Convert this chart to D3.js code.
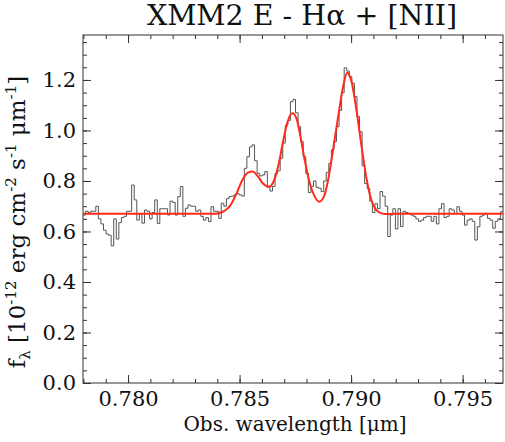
<!DOCTYPE html>
<html>
<head>
<meta charset="utf-8">
<script src="https://cdn.jsdelivr.net/npm/d3@7"></script>
<style>
  body { margin: 0; background: #fff; }
  svg { display: block; }
  text { font-family: "DejaVu Serif", serif; fill: #111; }
</style>
</head>
<body>
<div class="spec-chart"></div>
<script>
// spectrum: flux per bin, bins start at lambdaStart and are binWidth wide (micron)
const lambdaStart = 0.77798;
const binWidth = 0.0001148;
const flux = [
  0.665, 0.68, 0.675, 0.68, 0.68, 0.70, 0.65, 0.63, 0.605, 0.59,
  0.585, 0.543, 0.65, 0.57, 0.635, 0.655, 0.66, 0.68, 0.68, 0.784,
  0.725, 0.645, 0.67, 0.633, 0.685, 0.68, 0.65, 0.675, 0.725, 0.632,
  0.69, 0.69, 0.69, 0.665, 0.72, 0.715, 0.665, 0.738, 0.778, 0.66,
  0.692, 0.705, 0.70, 0.70, 0.68, 0.685, 0.66, 0.645, 0.655, 0.639,
  0.698, 0.68, 0.68, 0.652, 0.712, 0.70, 0.73, 0.738, 0.74, 0.745,
  0.75, 0.745, 0.74, 0.85, 0.896, 0.935, 0.943, 0.88, 0.83, 0.82,
  0.824, 0.837, 0.775, 0.76, 0.778, 0.83, 0.84, 0.89, 0.95, 1.02,
  1.04, 1.114, 1.123, 1.07, 1.015, 0.956, 0.896, 0.83, 0.754, 0.778,
  0.80, 0.775, 0.771, 0.758, 0.80, 0.834, 0.87, 0.923, 0.956, 1.015,
  1.08, 1.15, 1.248, 1.235, 1.213, 1.187, 1.134, 1.055, 0.995, 0.86,
  0.79, 0.77, 0.72, 0.675, 0.71, 0.69, 0.758, 0.74, 0.70, 0.58,
  0.665, 0.69, 0.61, 0.69, 0.62, 0.68, 0.675, 0.67, 0.665, 0.66,
  0.65, 0.64, 0.645, 0.655, 0.66, 0.66, 0.64, 0.66, 0.63, 0.69,
  0.71, 0.655, 0.66, 0.69, 0.685, 0.67, 0.698, 0.68, 0.665, 0.625,
  0.645, 0.65, 0.64, 0.566, 0.619, 0.66, 0.665, 0.672, 0.652, 0.645,
  0.613, 0.64, 0.65, 0.678
];

// gaussian fit (red)
const fitWave = [0.77798, 0.7830, 0.78389, 0.78420, 0.78438, 0.78456, 0.78486, 0.78516,
  0.78538, 0.78558, 0.78583, 0.78605, 0.78632, 0.78650, 0.78673, 0.78695, 0.78713,
  0.78737, 0.78755, 0.78773, 0.78792, 0.78815, 0.78837, 0.78857, 0.78878, 0.78897,
  0.78919, 0.78942, 0.78964, 0.78982, 0.79002, 0.79024, 0.79047, 0.79069, 0.79084,
  0.79099, 0.79121, 0.79151, 0.79196, 0.79681];
const fitFlux = [0.67, 0.67, 0.670, 0.676, 0.685, 0.70, 0.75, 0.81,
  0.833, 0.837, 0.817, 0.79, 0.777, 0.793, 0.857, 0.956, 1.028,
  1.068, 1.048, 0.975, 0.883, 0.79, 0.738, 0.718, 0.738, 0.804,
  0.923, 1.055, 1.173, 1.229, 1.193, 1.081, 0.936, 0.81, 0.745,
  0.705, 0.678, 0.669, 0.67, 0.67];

const xTicks = [0.780, 0.785, 0.790, 0.795];
const yTicks = [0.0, 0.2, 0.4, 0.6, 0.8, 1.0, 1.2];
const xDomain = [0.77798, 0.79681];
const yDomain = [0, 1.378];

const width = 505, height = 442;
const margin = { top: 35, right: 2, bottom: 59, left: 83 };

const svg = d3.select('.spec-chart').append('svg')
  .attr('width', width).attr('height', height);

const x = d3.scaleLinear().domain(xDomain).range([margin.left, width - margin.right]);
const y = d3.scaleLinear().domain(yDomain).range([height - margin.bottom, margin.top]);

const plotW = width - margin.left - margin.right,
  plotH = height - margin.top - margin.bottom;

const xMinor = d3.range(0.778, 0.7968, 0.001);
const yMinor = d3.range(0, 1.376, 0.05);

function styleAxis(g) {
  g.select('.domain').remove();
  g.selectAll('line').attr('stroke', '#333');
  g.selectAll('text').attr('font-size', 21).attr('fill', '#111');
}

// bottom
svg.append('g').attr('transform', 'translate(0,' + y(0) + ')')
  .call(d3.axisBottom(x).tickValues(xTicks).tickFormat(d3.format('.3f')).tickSize(-8).tickPadding(8))
  .call(styleAxis);
svg.append('g').attr('transform', 'translate(0,' + y(0) + ')')
  .call(d3.axisBottom(x).tickValues(xMinor).tickFormat('').tickSize(-4))
  .call(styleAxis);
// top
svg.append('g').attr('transform', 'translate(0,' + margin.top + ')')
  .call(d3.axisTop(x).tickValues(xTicks).tickFormat('').tickSize(-8))
  .call(styleAxis);
svg.append('g').attr('transform', 'translate(0,' + margin.top + ')')
  .call(d3.axisTop(x).tickValues(xMinor).tickFormat('').tickSize(-4))
  .call(styleAxis);
// left
svg.append('g').attr('transform', 'translate(' + margin.left + ',0)')
  .call(d3.axisLeft(y).tickValues(yTicks).tickFormat(d3.format('.1f')).tickSize(-8).tickPadding(7))
  .call(styleAxis);
svg.append('g').attr('transform', 'translate(' + margin.left + ',0)')
  .call(d3.axisLeft(y).tickValues(yMinor).tickFormat('').tickSize(-4))
  .call(styleAxis);
// right
svg.append('g').attr('transform', 'translate(' + (width - margin.right) + ',0)')
  .call(d3.axisRight(y).tickValues(yTicks).tickFormat('').tickSize(-8))
  .call(styleAxis);
svg.append('g').attr('transform', 'translate(' + (width - margin.right) + ',0)')
  .call(d3.axisRight(y).tickValues(yMinor).tickFormat('').tickSize(-4))
  .call(styleAxis);

svg.append('rect')
  .attr('x', margin.left).attr('y', margin.top)
  .attr('width', plotW).attr('height', plotH)
  .attr('fill', 'none').attr('stroke', '#333').attr('stroke-width', 1);

// spectrum histogram
const steps = flux.map((f, i) => [lambdaStart + i * binWidth, f]);
steps.push([lambdaStart + flux.length * binWidth, flux[flux.length - 1]]);

svg.append('clipPath').attr('id', 'plot-clip')
  .append('rect').attr('x', margin.left).attr('y', margin.top)
  .attr('width', plotW).attr('height', plotH);

svg.append('path')
  .datum(steps)
  .attr('clip-path', 'url(#plot-clip)')
  .attr('fill', 'none')
  .attr('stroke', '#555')
  .attr('stroke-width', 1)
  .attr('d', d3.line().x(d => x(d[0])).y(d => y(d[1])).curve(d3.curveStepAfter));

// fit
svg.append('path')
  .datum(fitWave.map((w, i) => [w, fitFlux[i]]))
  .attr('clip-path', 'url(#plot-clip)')
  .attr('fill', 'none')
  .attr('stroke', '#ff2a1a')
  .attr('stroke-width', 2)
  .attr('d', d3.line().x(d => x(d[0])).y(d => y(d[1])).curve(d3.curveMonotoneX));

// title
svg.append('text')
  .attr('x', 302).attr('y', 25)
  .attr('text-anchor', 'middle')
  .attr('font-size', 28.5)
  .text('XMM2 E - H\u03b1 + [NII]');

// x label
svg.append('text')
  .attr('x', 295).attr('y', 431)
  .attr('text-anchor', 'middle')
  .attr('font-size', 20)
  .text('Obs. wavelength [\u03bcm]');

// y label
const yl = svg.append('text')
  .attr('transform', 'translate(25,222) rotate(-90)')
  .attr('text-anchor', 'middle')
  .attr('font-size', 23);
yl.append('tspan').text('f');
yl.append('tspan').attr('font-size', 15).attr('dy', 5).text('\u03bb');
yl.append('tspan').attr('dy', -5).text(' [10');
yl.append('tspan').attr('font-size', 15).attr('dy', -9).text('-12');
yl.append('tspan').attr('dy', 9).text(' erg cm');
yl.append('tspan').attr('font-size', 15).attr('dy', -9).text('-2');
yl.append('tspan').attr('dy', 9).text(' s');
yl.append('tspan').attr('font-size', 15).attr('dy', -9).text('-1');
yl.append('tspan').attr('dy', 9).text(' \u03bcm');
yl.append('tspan').attr('font-size', 15).attr('dy', -9).text('-1');
yl.append('tspan').attr('dy', 9).text(']');
</script>
</body>
</html>
